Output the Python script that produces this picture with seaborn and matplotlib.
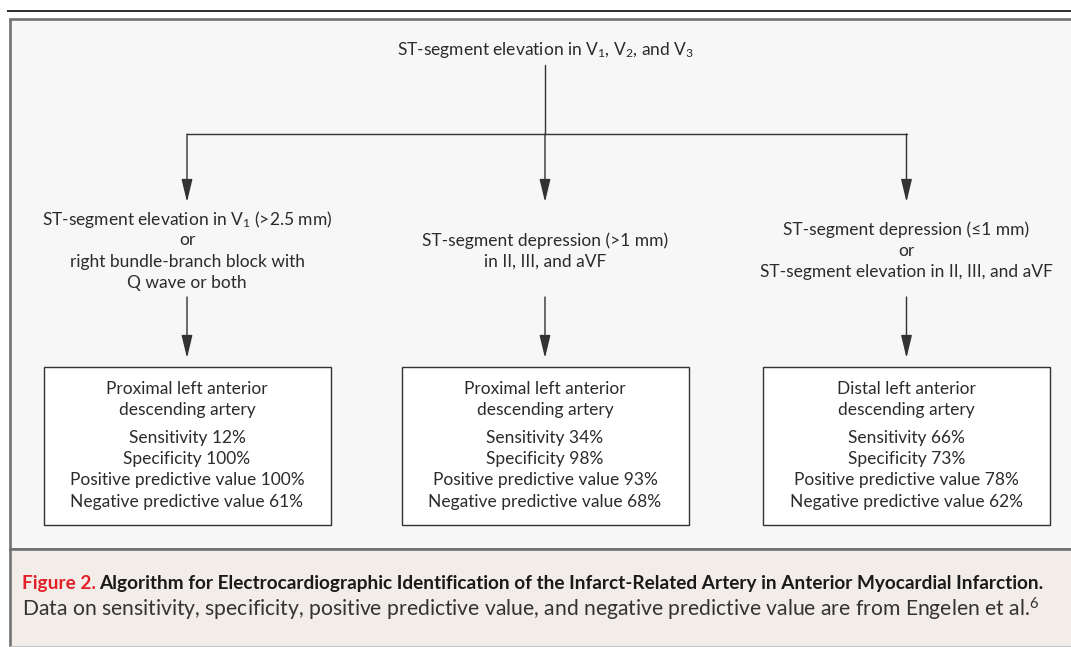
import matplotlib
matplotlib.use("Agg")
import matplotlib.pyplot as plt
import seaborn as sns
from matplotlib.patches import Rectangle

# flowchart content
root_label = "ST-segment elevation in V$_1$, V$_2$, and V$_3$"
criteria = [
    ["ST-segment elevation in V$_1$ (>2.5 mm)", "or", "right bundle-branch block with", "Q wave or both"],
    ["ST-segment depression (>1 mm)", "in II, III, and aVF"],
    ["ST-segment depression (\u22641 mm)", "or", "ST-segment elevation in II, III, and aVF"],
]
arteries = [
    ["Proximal left anterior", "descending artery"],
    ["Proximal left anterior", "descending artery"],
    ["Distal left anterior", "descending artery"],
]
sensitivity = [12, 34, 66]
specificity = [100, 98, 73]
ppv = [100, 93, 78]
npv = [61, 68, 62]

caption_label = "Figure 2."
caption_title = ("Algorithm for Electrocardiographic Identification of the Infarct-Related "
                 "Artery in Anterior Myocardial Infarction.")
caption_note = ("Data on sensitivity, specificity, positive predictive value, and negative "
                "predictive value are from Engelen et al.$^{6}$")

sns.set_theme(style="white")
plt.rcParams["font.family"] = ["Lato", "DejaVu Sans"]
plt.rcParams["mathtext.fontset"] = "custom"
plt.rcParams["mathtext.rm"] = "Lato"
plt.rcParams["mathtext.it"] = "Lato"
plt.rcParams["mathtext.bf"] = "Lato:bold"

W, H = 1071, 647
px = 0.72  # one pixel in points at dpi 100
ink = "#2b2b2b"
line_c = "#333333"
frame_c = "#707070"

fig = plt.figure(figsize=(W / 100, H / 100), dpi=100)
fig.patch.set_facecolor("white")
ax = fig.add_axes([0, 0, 1, 1])
ax.set_xlim(0, W)
ax.set_ylim(H, 0)
ax.axis("off")

# frame: rule, diagram panel, caption panel
ax.plot([7, W], [10.5, 10.5], color="black", lw=1.6 * px, solid_capstyle="butt")
ax.add_patch(Rectangle((9.5, 18.5), W, 530.5, facecolor="#f7f7f7",
                       edgecolor=frame_c, lw=2.6 * px, zorder=0))
ax.add_patch(Rectangle((9.5, 549), W, 100, facecolor="#f2ede8",
                       edgecolor="none", zorder=0))
ax.plot([9.5, 9.5], [549, H], color=frame_c, lw=2.6 * px)
ax.plot([9.5, W], [549, 549], color=frame_c, lw=2.6 * px)
ax.plot([9.5, W], [645.5, 645.5], color="#c4c4c4", lw=1.2 * px)

col_x = [187, 545, 906.5]
fs = 12.5
arrow_kw = dict(arrowstyle="-|>,head_length=1.0,head_width=0.24", color=line_c,
                lw=1.4 * px, shrinkA=0, shrinkB=0, mutation_scale=14)

# root
ax.text(545, 50, root_label, ha="center", va="center", fontsize=fs, color=ink)
ax.plot([545, 545], [65, 134], color=line_c, lw=1.4 * px)
ax.plot([col_x[0], col_x[-1]], [134, 134], color=line_c, lw=1.4 * px)

line_h = 21.3
for i, x in enumerate(col_x):
    ax.annotate("", xy=(x, 202), xytext=(x, 134), arrowprops=arrow_kw)
    lines = criteria[i]
    y0 = 251 - (len(lines) - 1) * line_h / 2
    for j, t in enumerate(lines):
        ax.text(x, y0 + j * line_h, t, ha="center", va="center", fontsize=fs, color=ink)
    ax.annotate("", xy=(x, 358), xytext=(x, 297), arrowprops=arrow_kw)

    # result box
    ax.add_patch(Rectangle((x - 143.5, 367), 287, 157.5, facecolor="white",
                           edgecolor=line_c, lw=1.4 * px, zorder=2))
    ys = [388.5, 410.5]
    for y, t in zip(ys, arteries[i]):
        ax.text(x, y, t, ha="center", va="center", fontsize=fs, color=ink, zorder=3)
    stats = [f"Sensitivity {sensitivity[i]}%",
             f"Specificity {specificity[i]}%",
             f"Positive predictive value {ppv[i]}%",
             f"Negative predictive value {npv[i]}%"]
    for j, t in enumerate(stats):
        ax.text(x, 437.5 + j * 21.5, t, ha="center", va="center", fontsize=fs,
                color=ink, zorder=3)

# caption
cap_fs = 13.7
t1 = ax.text(22, 583, caption_label, ha="left", va="center", fontsize=cap_fs,
             fontweight="bold", color="#e3202a")
ax.annotate(caption_title, xy=(1, 0.5), xycoords=t1, xytext=(2.5, 0),
            textcoords="offset points", ha="left", va="center", fontsize=cap_fs,
            fontweight="bold", color="#1a1a1a")
ax.text(22, 609, caption_note, ha="left", va="center", fontsize=15.2, color="#333333")

fig.savefig("out.png", dpi=100, facecolor=fig.get_facecolor())
